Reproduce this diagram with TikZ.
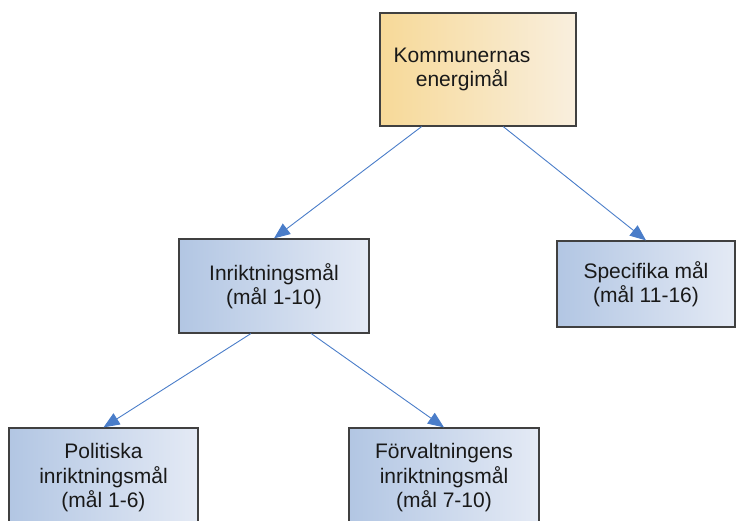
\documentclass[tikz,border=0pt]{standalone}
\usepackage{fontspec}
\setmainfont{Liberation Sans}
\usetikzlibrary{arrows.meta,calc}
\definecolor{goldL}{RGB}{247,217,152}
\definecolor{goldR}{RGB}{249,239,222}
\definecolor{blueL}{RGB}{178,198,227}
\definecolor{blueR}{RGB}{228,234,245}
\definecolor{linkblue}{RGB}{74,125,201}
\begin{document}
\begin{tikzpicture}[x=1pt,y=-1pt,
    goal/.style={draw=black!75, line width=1.2pt, inner sep=0pt, align=center,
        font=\fontsize{21}{24.5}\selectfont, text=black!90},
    topgoal/.style={goal, left color=goldL, right color=goldR},
    subgoal/.style={goal, left color=blueL, right color=blueR},
    link/.style={draw=linkblue, line width=0.9pt, -{Triangle[length=16pt,width=13pt]}}]
    % Page frame
    \useasboundingbox (0,0) rectangle (736,521);
    \clip (0,0) rectangle (736,521);
    % Main goal (text sits a little left of centre)
    \node[topgoal, minimum width=196, minimum height=113] (top) at (478,69.5)
        {Kommunernas\hspace*{32pt}\\energimål\hspace*{32pt}};
    % Second level
    \node[subgoal, minimum width=190, minimum height=94] (inrikt) at (274,286) {Inriktningsmål\\(mål 1-10)};
    \node[subgoal, minimum width=178, minimum height=86] (spec) at (646,284) {Specifika mål\\(mål 11-16)};
    % Third level (cut by the page)
    \node[subgoal, minimum width=189, minimum height=100] (polit) at (103.5,478) {Politiska\\inriktningsmål\\(mål 1-6)};
    \node[subgoal, minimum width=190, minimum height=100] (forv) at (444,478) {Förvaltningens\\inriktningsmål\\(mål 7-10)};
    % Connectors
    \draw[link] ($(top.south west)!0.214!(top.south east)$) -- (inrikt.north);
    \draw[link] ($(top.south west)!0.628!(top.south east)$) -- (spec.north);
    \draw[link] ($(inrikt.south west)!0.379!(inrikt.south east)$) -- (polit.north);
    \draw[link] ($(inrikt.south west)!0.695!(inrikt.south east)$) -- (forv.north);
\end{tikzpicture}
\end{document}
